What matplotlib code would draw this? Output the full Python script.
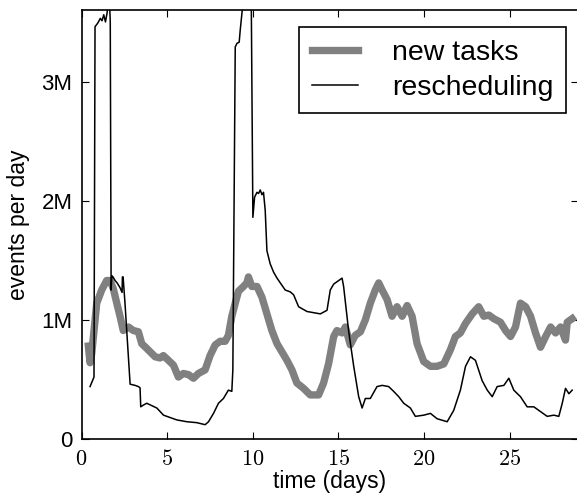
import matplotlib
matplotlib.use("Agg")
import matplotlib.pyplot as plt
from matplotlib.ticker import FuncFormatter

plt.rcParams['font.family'] = ['Liberation Sans', 'DejaVu Sans']
plt.rcParams['mathtext.fontset'] = 'cm'

# events per day, in millions
new_days = [0.4, 0.5, 0.6, 0.89, 1.18, 1.47, 1.67, 1.86, 2.06, 2.25, 2.44, 2.74, 3.03, 3.32,
            3.52, 3.81, 4.3, 4.59, 4.78, 5.08, 5.37, 5.66, 5.95, 6.25, 6.54, 6.83, 7.22,
            7.51, 7.81, 8.1, 8.39, 8.58, 8.78, 8.98, 9.17, 9.46, 9.66, 9.75, 9.95, 10.25,
            10.54, 10.83, 11.12, 11.42, 11.71, 12.0, 12.29, 12.58, 12.97, 13.36, 13.85,
            14.14, 14.43, 14.73, 14.92, 15.22, 15.41, 15.7, 15.99, 16.29, 16.58, 16.87,
            17.16, 17.36, 17.56, 17.85, 18.14, 18.43, 18.73, 19.02, 19.31, 19.6, 19.99,
            20.38, 20.77, 21.16, 21.55, 21.84, 22.13, 22.43, 22.82, 23.2, 23.5, 23.79,
            24.08, 24.47, 24.77, 25.06, 25.35, 25.64, 25.94, 26.23, 26.52, 26.81, 27.11,
            27.4, 27.69, 27.98, 28.27, 28.37, 28.66]
new_tasks = [0.78, 0.64, 0.72, 1.14, 1.25, 1.33, 1.33, 1.26, 1.14, 1.03, 0.91, 0.94, 0.91, 0.90,
             0.80, 0.76, 0.69, 0.68, 0.70, 0.66, 0.62, 0.52, 0.55, 0.54, 0.51, 0.55, 0.58,
             0.70, 0.79, 0.82, 0.82, 0.87, 1.03, 1.14, 1.24, 1.28, 1.31, 1.36, 1.28, 1.28,
             1.19, 1.05, 0.91, 0.80, 0.73, 0.66, 0.58, 0.47, 0.425, 0.37, 0.37,
             0.47, 0.63, 0.86, 0.91, 0.89, 0.94, 0.79, 0.87, 0.90, 1.00, 1.14,
             1.25, 1.31, 1.25, 1.17, 1.03, 1.11, 1.03, 1.12, 1.03, 0.80, 0.65,
             0.61, 0.61, 0.63, 0.75, 0.86, 0.89, 0.97, 1.05, 1.11, 1.03, 1.04,
             1.01, 0.98, 0.91, 0.86, 0.94, 1.14, 1.11, 1.03, 0.89, 0.77, 0.86,
             0.94, 0.89, 0.94, 0.83, 0.98, 1.01]

resched_days = [0.5, 0.73, 0.79, 0.95, 1.1, 1.2, 1.3, 1.4, 1.5, 1.59, 1.68, 1.73, 1.77, 1.84,
                1.96, 2.08, 2.25, 2.37, 2.39, 2.43, 2.54, 2.84, 3.13, 3.32, 3.42, 3.46, 3.62,
                3.81, 4.4, 4.79, 5.57, 6.15, 6.74, 7.22, 7.42, 7.71, 8.0, 8.29, 8.58, 8.78,
                8.84, 8.98, 9.08, 9.21, 9.27, 9.39, 9.6, 9.91, 10.01, 10.11, 10.25, 10.34,
                10.44, 10.54, 10.63, 10.73, 10.83, 11.02, 11.22, 11.42, 11.61, 11.9, 12.19,
                12.39, 12.68, 13.17, 13.95, 14.34, 14.53, 14.73, 15.22, 15.31, 15.6, 15.9,
                16.19, 16.39, 16.58, 16.87, 17.26, 17.56, 17.94, 18.23, 18.53, 18.82, 19.21,
                19.5, 19.99, 20.38, 20.77, 21.36, 21.74, 22.13, 22.43, 22.72, 23.01, 23.4,
                23.7, 23.99, 24.28, 24.67, 24.96, 25.25, 25.64, 26.03, 26.42, 26.81, 27.2,
                27.59, 27.88, 28.08, 28.27, 28.47, 28.66]
rescheduling = [0.44, 0.52, 3.46, 3.49, 3.53, 3.51, 3.56, 3.50, 3.58, 3.85, 3.5, 1.25, 1.37, 1.36,
                1.33, 1.31, 1.27, 1.23, 1.36, 1.36, 1.14, 0.46, 0.45, 0.44, 0.43, 0.27, 0.285,
                0.30, 0.26, 0.20, 0.16, 0.145, 0.137, 0.12, 0.145, 0.215, 0.30, 0.34, 0.41, 0.40,
                0.58, 3.29, 3.32, 3.33, 3.43, 3.6, 4.2, 3.8, 1.86, 2.03, 2.07, 2.06,
                2.09, 2.05, 2.07, 1.92, 1.58, 1.47, 1.40, 1.35, 1.31, 1.25, 1.235,
                1.21, 1.11, 1.07, 1.05, 1.08, 1.25, 1.30, 1.35, 1.28, 0.91, 0.61,
                0.355, 0.26, 0.34, 0.34, 0.44, 0.45, 0.44, 0.40, 0.355, 0.30, 0.26,
                0.19, 0.20, 0.215, 0.17, 0.145, 0.24, 0.41, 0.61, 0.69, 0.66, 0.49,
                0.41, 0.355, 0.44, 0.45, 0.51, 0.41, 0.355, 0.27, 0.27, 0.23, 0.19,
                0.20, 0.19, 0.30, 0.425, 0.38, 0.41]

fig = plt.figure(figsize=(5.77, 5.0), dpi=100)
ax = fig.add_axes([81.5 / 577, 61 / 500, 496.5 / 577, 429 / 500])

ax.plot(new_days, new_tasks, color='#808080', lw=5.3, label='new tasks', solid_joinstyle='round')
ax.plot(resched_days, rescheduling, color='black', lw=1.1, label='rescheduling')

ax.set_xlim(0, 29.0)
ax.set_ylim(0, 3.6)
ax.set_xticks([0, 5, 10, 15, 20, 25])
ax.set_yticks([0, 1, 2, 3])
ax.xaxis.set_major_formatter(FuncFormatter(lambda v, p: f'${v:g}$'))
ax.yaxis.set_major_formatter(FuncFormatter(lambda v, p: '0' if v == 0 else f'{v:g}M'))
ax.tick_params(direction='in', top=True, right=True, length=5, width=0.8)
ax.tick_params(axis='x', labelsize=16, pad=7)
ax.tick_params(axis='y', labelsize=16, pad=6.5)
for s in ax.spines.values():
    s.set_linewidth(1.2)

ax.set_xlabel('time (days)', fontsize=16.5, labelpad=0)
ax.set_ylabel('events per day', fontsize=16.5, labelpad=8)

leg = ax.legend(loc='upper right', bbox_to_anchor=(0.976, 0.96), fontsize=20.5,
                fancybox=False, framealpha=1, edgecolor='black', handlelength=1.6,
                borderpad=0.45, labelspacing=0.3, handletextpad=1.2, borderaxespad=0)
leg.get_frame().set_linewidth(1.2)

fig.savefig('out.png', dpi=100)
